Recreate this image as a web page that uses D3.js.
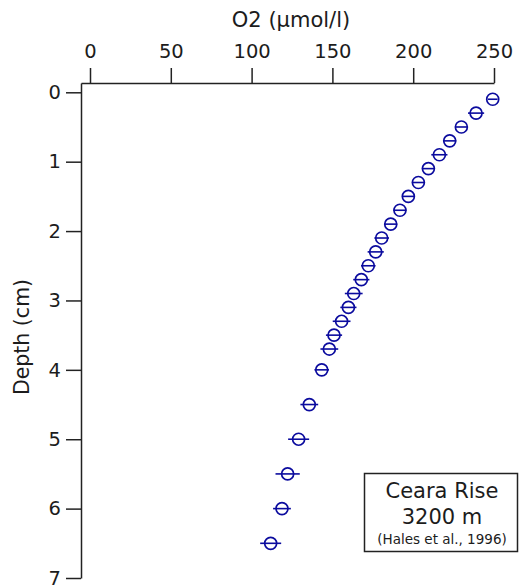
<!DOCTYPE html>
<html>
<head>
<meta charset="utf-8">
<script src="https://cdn.jsdelivr.net/npm/d3@7"></script>
<style>
  html, body { margin: 0; padding: 0; background: #fff; }
  svg { display: block; }
  text { font-family: "DejaVu Sans", Verdana, sans-serif; fill: #1c1c1c; }
</style>
</head>
<body>
<svg id="chart" width="520" height="587"></svg>
<script>
// Pore-water oxygen profile, Ceara Rise (3200 m)
const depthCm = [0.1, 0.3, 0.5, 0.7, 0.9, 1.1, 1.3, 1.5, 1.7, 1.9, 2.1, 2.3, 2.5,
                 2.7, 2.9, 3.1, 3.3, 3.5, 3.7, 4.0, 4.5, 5.0, 5.5, 6.0, 6.5];
const o2 = [249.2, 238.9, 229.8, 222.6, 216.2, 209.4, 203.2, 197.0, 191.8, 186.1,
            180.5, 176.8, 172.2, 167.9, 163.2, 159.9, 155.7, 151.0, 148.1, 143.4,
            135.7, 129.1, 122.3, 118.8, 111.8];
const o2Err = [3, 5, 3.5, 4, 5, 4, 4, 4, 4, 4, 4.5, 5, 4.5, 5, 5.5, 5, 5.5, 5,
               5.5, 4.5, 5.5, 6.5, 7.5, 5.5, 6.5];
const xTicks = [0, 50, 100, 150, 200, 250];
const yTicks = [0, 1, 2, 3, 4, 5, 6, 7];
const xTitle = "O2 (µmol/l)";
const yTitle = "Depth (cm)";
const noteLines = ["Ceara Rise", "3200 m", "(Hales et al., 1996)"];

const svg = d3.select("#chart");
const markColor = "#0b0b9e";
const inkColor = "#1c1c1c";
const fontFamily = '"DejaVu Sans", Verdana, sans-serif';

const x = d3.scaleLinear().domain([-5.57, 250]).range([81, 494]);
const y = d3.scaleLinear().domain([-0.134, 7]).range([83, 578]);

// top (oxygen) axis
const gx = svg.append("g")
  .attr("transform", `translate(0,${y.range()[0]})`)
  .call(d3.axisTop(x).tickValues(xTicks).tickSize(15).tickSizeOuter(0).tickPadding(10));
// left (depth) axis
const gy = svg.append("g")
  .attr("transform", `translate(${x.range()[0]},0)`)
  .call(d3.axisLeft(y).tickValues(yTicks).tickSize(15).tickSizeOuter(0).tickPadding(5));

[gx, gy].forEach(g => {
  g.selectAll("path.domain").attr("stroke", "#222").attr("stroke-width", 1.5);
  g.selectAll(".tick line").attr("stroke", "#222").attr("stroke-width", 1.5);
  g.selectAll(".tick text").attr("font-size", 19.5).attr("fill", inkColor)
    .style("font-family", fontFamily);
});

svg.append("text")
  .attr("x", 291).attr("y", 27)
  .attr("text-anchor", "middle").attr("font-size", 21)
  .text(xTitle);

svg.append("text")
  .attr("transform", "translate(29,337) rotate(-90)")
  .attr("text-anchor", "middle").attr("font-size", 20.5)
  .text(yTitle);

// data: circles with horizontal error bars
const pts = depthCm.map((d, i) => ({ d, v: o2[i], e: o2Err[i] }));
const gp = svg.append("g");
gp.selectAll("line.err").data(pts).join("line")
  .attr("class", "err")
  .attr("x1", p => x(p.v - p.e)).attr("x2", p => x(p.v + p.e))
  .attr("y1", p => y(p.d)).attr("y2", p => y(p.d))
  .attr("stroke", markColor).attr("stroke-width", 1.6);
gp.selectAll("circle").data(pts).join("circle")
  .attr("cx", p => x(p.v)).attr("cy", p => y(p.d)).attr("r", 6)
  .attr("fill", "none").attr("stroke", markColor).attr("stroke-width", 1.7);

// annotation box
const note = svg.append("g");
note.append("rect")
  .attr("x", 364.5).attr("y", 473.5).attr("width", 153).attr("height", 78)
  .attr("fill", "#fff").attr("stroke", "#222").attr("stroke-width", 1.5);
note.append("text").attr("x", 442).attr("y", 498).attr("text-anchor", "middle")
  .attr("font-size", 21).text(noteLines[0]);
note.append("text").attr("x", 442).attr("y", 524).attr("text-anchor", "middle")
  .attr("font-size", 21).text(noteLines[1]);
note.append("text").attr("x", 442).attr("y", 544).attr("text-anchor", "middle")
  .attr("font-size", 13.5).text(noteLines[2]);
</script>
</body>
</html>
